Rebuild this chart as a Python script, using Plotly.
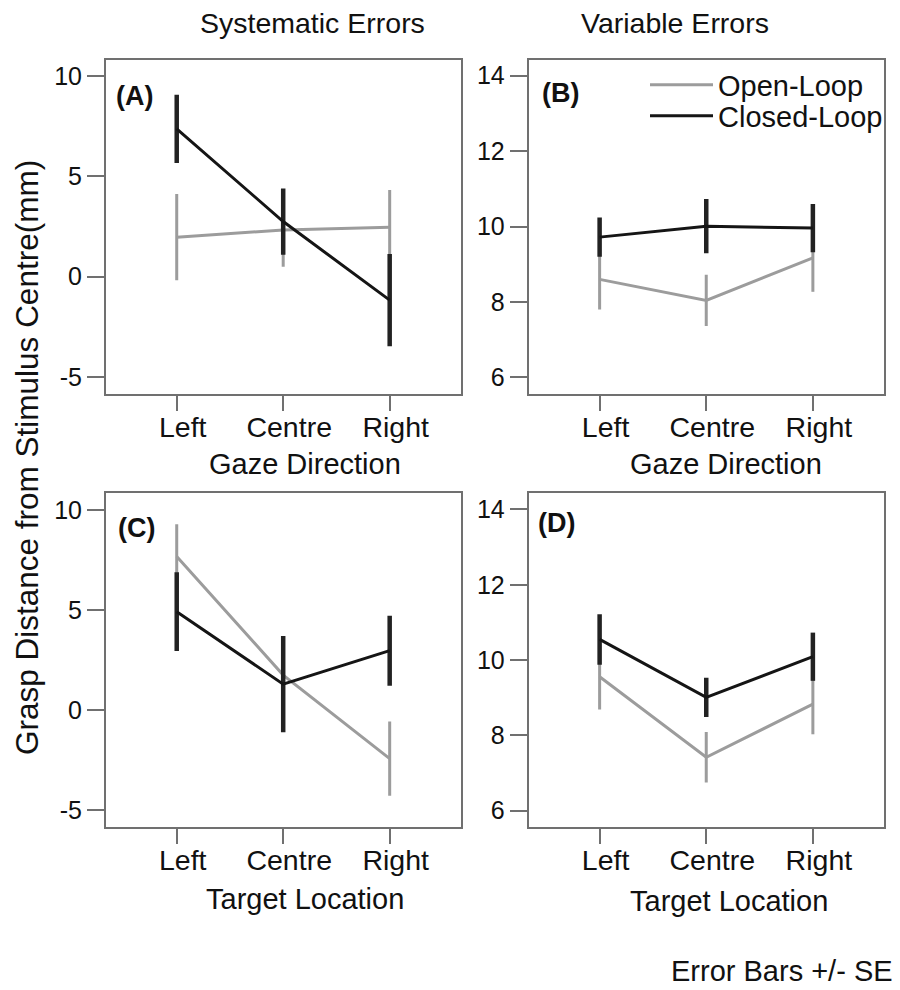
import plotly.graph_objects as go

# ---------------- data ----------------
categories = ["Left", "Centre", "Right"]

# (A) Systematic errors vs gaze direction
a_open = [1.97, 2.33, 2.47]
a_open_se = [2.15, 1.83, 1.85]
a_closed = [7.37, 2.75, -1.17]
a_closed_se = [1.70, 1.65, 2.30]

# (B) Variable errors vs gaze direction
b_open = [8.60, 8.04, 9.17]
b_open_se = [0.80, 0.68, 0.90]
b_closed = [9.72, 10.01, 9.96]
b_closed_se = [0.52, 0.72, 0.64]

# (C) Systematic errors vs target location
c_open = [7.67, 1.75, -2.42]
c_open_se = [1.62, 1.55, 1.85]
c_closed = [4.92, 1.30, 2.97]
c_closed_se = [1.97, 2.40, 1.75]

# (D) Variable errors vs target location
d_open = [9.56, 7.42, 8.83]
d_open_se = [0.87, 0.67, 0.80]
d_closed = [10.55, 9.01, 10.09]
d_closed_se = [0.67, 0.52, 0.64]

series_names = ["Open-Loop", "Closed-Loop"]
sys_ticks = [-5, 0, 5, 10]
sys_ticktext = ["-5", "0", "5", "10"]
var_ticks = [6, 8, 10, 12, 14]
var_ticktext = ["6", "8", "10", "12", "14"]

# ---------------- style ----------------
FONT = "Liberation Sans, Arial, sans-serif"
GRAY = "#9c9c9c"
BLACK = "#151515"
FRAME = "#707070"
TXT = "#111111"
W, H = 900, 990

panels = [
    ("x", "y", a_open, a_open_se, a_closed, a_closed_se),
    ("x2", "y2", b_open, b_open_se, b_closed, b_closed_se),
    ("x3", "y3", c_open, c_open_se, c_closed, c_closed_se),
    ("x4", "y4", d_open, d_open_se, d_closed, d_closed_se),
]

fig = go.Figure()
for i, (xa, ya, op, op_se, cl, cl_se) in enumerate(panels):
    fig.add_trace(go.Scatter(
        x=categories, y=op, xaxis=xa, yaxis=ya, mode="lines",
        name=series_names[0], showlegend=(i == 1), legend="legend",
        line=dict(color=GRAY, width=3),
        error_y=dict(type="data", array=op_se, visible=True, width=0,
                     thickness=3, color=GRAY),
    ))
    fig.add_trace(go.Scatter(
        x=categories, y=cl, xaxis=xa, yaxis=ya, mode="lines",
        name=series_names[1], showlegend=(i == 1), legend="legend2",
        line=dict(color=BLACK, width=3),
        error_y=dict(type="data", array=cl_se, visible=True, width=0,
                     thickness=4.5, color="#222222"),
    ))

def px_x(p):
    return p / W

def px_y(p):
    return 1 - p / H

xdom_left = [px_x(105.7), px_x(460.7)]
xdom_right = [px_x(528.5), px_x(884)]
ydom_top = [px_y(394), px_y(59.5)]
ydom_bot = [px_y(827.3), px_y(493.3)]

common = dict(
    showline=True, mirror=True, linecolor=FRAME, linewidth=1.5,
    ticks="outside", tickcolor=FRAME, tickwidth=1.5,
    showgrid=False, zeroline=False,
)
xcommon = dict(common, type="category", categoryorder="array",
               categoryarray=categories, range=[-0.667, 2.667], ticklen=15,
               ticklabelshift=6, ticklabelstandoff=-8,
               tickfont=dict(family=FONT, size=28.5, color=TXT))
ycommon = dict(common, ticklen=17, tickfont=dict(family=FONT, size=25, color=TXT))
ysys = dict(ycommon, range=[-5.85, 10.83], tickvals=sys_ticks, ticktext=sys_ticktext)
yvar = dict(ycommon, range=[5.56, 14.43], tickvals=var_ticks, ticktext=var_ticktext)

legend_common = dict(xanchor="left", yanchor="middle", bgcolor="rgba(0,0,0,0)",
                     font=dict(family=FONT, size=29, color=TXT), itemwidth=63,
                     borderwidth=0)

fig.update_layout(
    width=W, height=H,
    margin=dict(l=0, r=0, t=0, b=0),
    paper_bgcolor="white", plot_bgcolor="white",
    font=dict(family=FONT, size=29, color=TXT),
    xaxis=dict(xcommon, domain=xdom_left, anchor="y"),
    yaxis=dict(ysys, domain=ydom_top, anchor="x"),
    xaxis2=dict(xcommon, domain=xdom_right, anchor="y2"),
    yaxis2=dict(yvar, domain=ydom_top, anchor="x2"),
    xaxis3=dict(xcommon, domain=xdom_left, anchor="y3"),
    yaxis3=dict(ysys, domain=ydom_bot, anchor="x3"),
    xaxis4=dict(xcommon, domain=xdom_right, anchor="y4"),
    yaxis4=dict(yvar, domain=ydom_bot, anchor="x4"),
    legend=dict(legend_common, x=px_x(645), y=px_y(85)),
    legend2=dict(legend_common, x=px_x(645), y=px_y(116)),
    showlegend=True,
)

def ann(text, x, y, size=29, bold=False, xanchor="center", textangle=0):
    fig.add_annotation(
        text=("<b>%s</b>" % text) if bold else text,
        x=px_x(x), y=px_y(y), xref="paper", yref="paper",
        xanchor=xanchor, yanchor="middle", showarrow=False,
        textangle=textangle, font=dict(family=FONT, size=size, color=TXT),
    )

ann("Systematic Errors", 312, 23, size=28.5)
ann("Variable Errors", 675, 23, size=28.5)
ann("(A)", 114, 96, size=27, bold=True, xanchor="left")
ann("(B)", 540, 93, size=27, bold=True, xanchor="left")
ann("(C)", 116, 528, size=27, bold=True, xanchor="left")
ann("(D)", 536, 523, size=27, bold=True, xanchor="left")
ann("Gaze Direction", 305, 464, size=29)
ann("Gaze Direction", 726, 464, size=29)
ann("Target Location", 305, 899, size=29)
ann("Target Location", 729, 901, size=29)
ann("Grasp Distance from Stimulus Centre(mm)", 27, 458, size=31.5, textangle=-90)
ann("Error Bars +/- SE", 895, 971, size=29, xanchor="right")

fig.write_html("out.html")
